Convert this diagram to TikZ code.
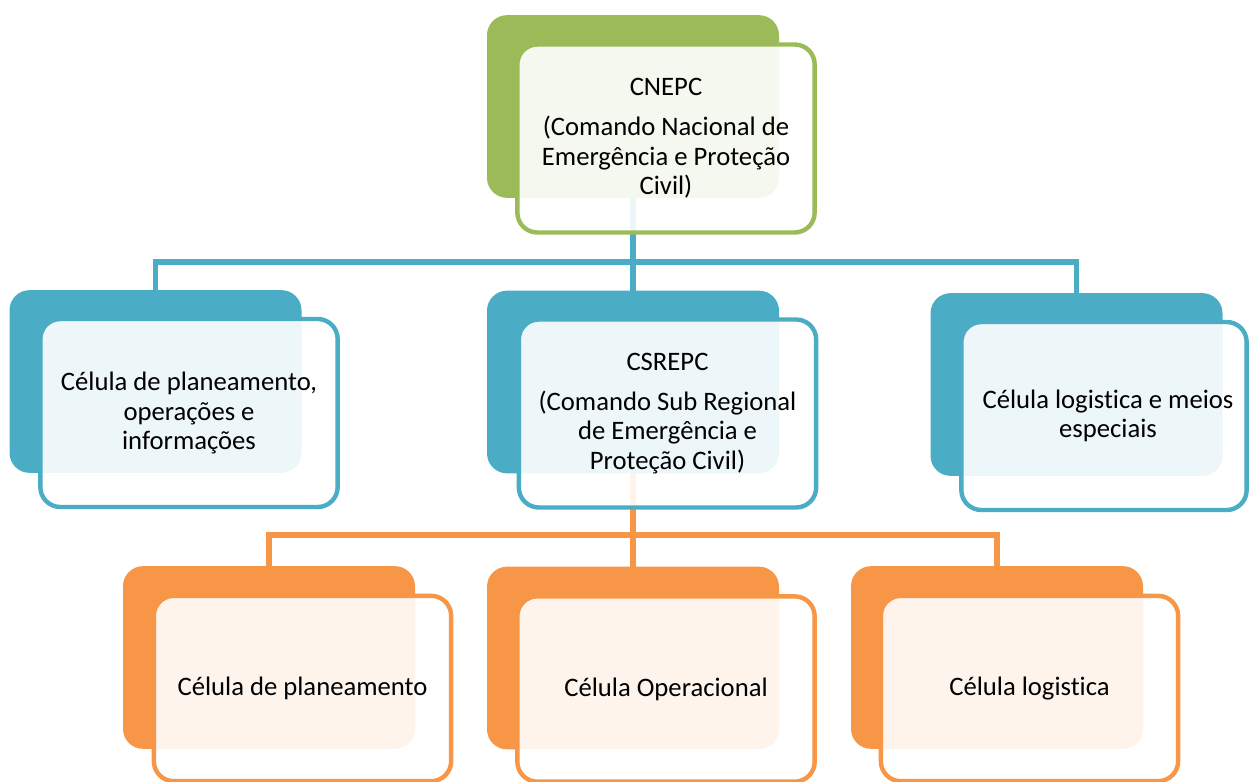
\documentclass[tikz,border=0pt]{standalone}
\usepackage{fontspec}
\setmainfont{Carlito}[Ligatures={NoCommon}]
\definecolor{cgreen}{HTML}{9BBB59}
\definecolor{cblue}{HTML}{4BACC6}
\definecolor{corange}{HTML}{F79646}
\begin{document}
\begin{tikzpicture}[x=0.75pt,y=-0.75pt,
  backbox/.style={rounded corners=15pt, fill=#1, draw=none, minimum width=219pt, minimum height=137pt, inner sep=0pt, outer sep=0pt},
  frontbox/.style={rounded corners=15pt, fill=white, fill opacity=0.9, text opacity=1, draw=#1, line width=3.3pt, minimum width=223pt, minimum height=141pt, align=center, inner sep=0pt, font=\fontsize{20}{22}\selectfont},
  link/.style={draw=#1, line width=3.8pt}]
\useasboundingbox (0,0) rectangle (1250,782);
\clip (0,0) rectangle (1250,782);

% back boxes
\node[backbox=cgreen] (b0) at (633,106.5) {};
\node[backbox=cblue] (b1) at (155.5,381.5) {};
\node[backbox=cblue] (b2) at (633,382) {};
\node[backbox=cblue] (b3) at (1076.5,384.5) {};
\node[backbox=corange] (b4) at (269,657.5) {};
\node[backbox=corange] (b5) at (633,658) {};
\node[backbox=corange] (b6) at (997,657.5) {};

% connectors
\coordinate (j1) at (b0.south |- 0,262);
\coordinate (j2) at (b2.south |- 0,535);
\draw[link=cblue] (b0.south) -- (j1);
\draw[link=cblue] (j1) -| (b1.north);
\draw[link=cblue] (j1) -- (b2.north);
\draw[link=cblue] (j1) -| (b3.north);
\draw[link=corange] (b2.south) -- (j2);
\draw[link=corange] (j2) -| (b4.north);
\draw[link=corange] (j2) -- (b5.north);
\draw[link=corange] (j2) -| (b6.north);

% front boxes
\node[frontbox=cgreen] (f0) at (666,138.5) {CNEPC\\[8pt](Comando Nacional de\\Emergência e Proteção\\Civil)};
\node[frontbox=cblue] (f1) at (189,413) {Célula de planeamento,\\operações e\\informações};
\node[frontbox=cblue] (f2) at (667.5,413.5) {CSREPC\\[8pt](Comando Sub Regional\\de Emergência e\\Proteção Civil)};
\node[frontbox=cblue, minimum width=214pt] (f3) at (1104,416) {\hspace*{6pt}Célula logistica e meios\\\hspace*{6pt}especiais};
\node[frontbox=corange, minimum height=139pt] (f4) at (302.5,688.5) {Célula de planeamento};
\node[frontbox=corange, minimum height=139pt] (f5) at (666,689) {Célula Operacional};
\node[frontbox=corange, minimum height=139pt] (f6) at (1029.5,688.5) {Célula logistica};
\end{tikzpicture}
\end{document}
